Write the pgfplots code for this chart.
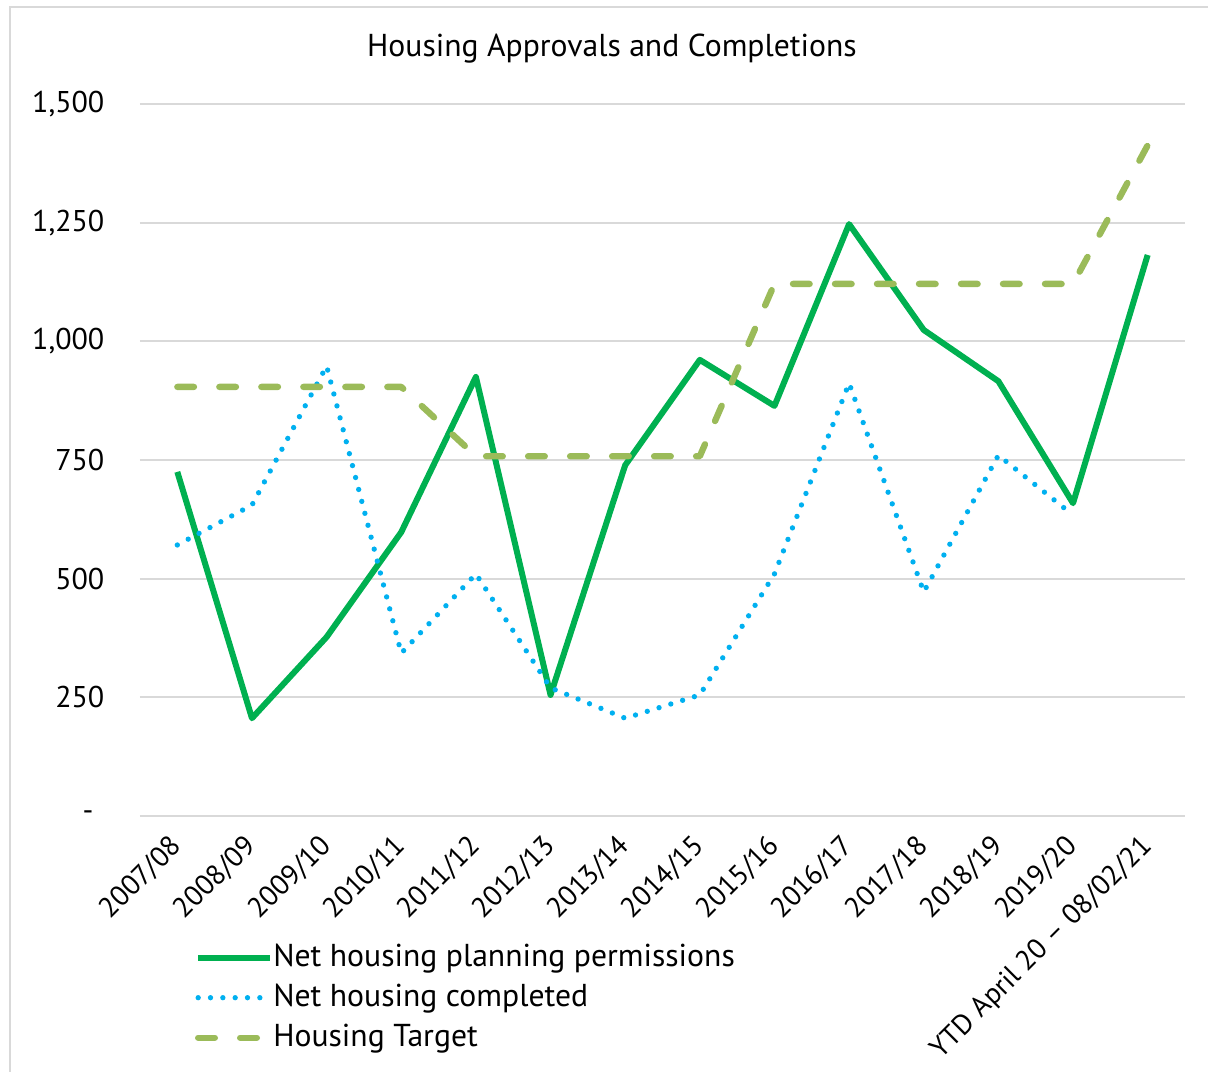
\documentclass[border=0pt]{standalone}
\usepackage{pgfplots}
\pgfplotsset{compat=1.18}
\usepackage{fontspec}
\setmainfont{PT Sans}
\definecolor{permgreen}{HTML}{00B050}
\definecolor{compblue}{HTML}{00B0F0}
\definecolor{targetgreen}{HTML}{9BBB59}
\definecolor{gridgray}{HTML}{D9D9D9}
\begin{document}
\fontsize{9.5}{11.4}\selectfont
\begin{tikzpicture}
\useasboundingbox (0,0) rectangle (362.4pt,-321.6pt);
\draw[gridgray, line width=0.6pt] (3pt,-340pt) -- (3pt,-2.1pt) -- (380pt,-2.1pt);
\node at (183.6pt,-14.6pt) {Housing Approvals and Completions};
\begin{axis}[
  at={(42pt,-244.8pt)}, anchor=south west,
  scale only axis, width=313.5pt, height=213.6pt,
  xmin=-0.5, xmax=13.5, ymin=0, ymax=1500,
  axis line style={draw=none}, tick style={draw=none},
  ymajorgrids, grid style={gridgray, line width=0.6pt},
  ytick={0,250,500,750,1000,1250,1500},
  yticklabels={{\makebox[6.5pt][l]{-}},250,500,750,{1,000},{1,250},{1,500}},
  xtick={0,1,2,3,4,5,6,7,8,9,10,11,12,13},
  xticklabels={2007/08,2008/09,2009/10,2010/11,2011/12,2012/13,2013/14,2014/15,2015/16,2016/17,2017/18,2018/19,2019/20,{YTD April 20 – 08/02/21}},
  /pgf/number format/assume math mode=true,
  yticklabel style={font=\fontsize{9}{10.8}\selectfont, anchor=east, inner sep=0pt, xshift=-10.5pt},
  xticklabel style={font=\fontsize{8.5}{10.2}\selectfont, xshift=-2.6pt, yshift=-4.8pt, rotate=45, anchor=north east, inner sep=0pt},
  legend style={at={(axis description cs:0.052,-0.177)}, anchor=north west,
    draw=none, fill=none, inner sep=0pt, row sep=3pt,
    nodes={inner sep=0pt, text height=7pt, text depth=2pt},
    /tikz/every even column/.append style={column sep=1.8pt}},
  legend cell align=left,
  legend image code/.code={\draw[#1] (0pt,0pt) -- (21.6pt,0pt);},
]
\addplot[permgreen, line width=1.8pt, line join=round] coordinates {
(0,725)(1,206)(2,377)(3,598)(4,925)(5,255)(6,739)(7,961)(8,864)(9,1247)(10,1024)(11,916)(12,659)(13,1182)};
\addlegendentry{Net housing planning permissions}
\addplot[compblue, line width=1.6pt, line cap=round, line join=round, dash pattern=on 0pt off 3.7pt] coordinates {
(0,571)(1,655)(2,948)(3,343)(4,510)(5,270)(6,206)(7,255)(8,510)(9,912)(10,472)(11,760)(12,634)};
\addlegendentry{Net housing completed}
\addplot[targetgreen, line width=1.9pt, line cap=round, line join=round, dash pattern=on 5pt off 7.6pt] coordinates {
(0,904)(1,904)(2,904)(3,904)(4,758)(5,758)(6,758)(7,758)(8,1121)(9,1121)(10,1121)(11,1121)(12,1121)(13,1413)};
\addlegendentry{Housing Target}
\end{axis}
\end{tikzpicture}
\end{document}
